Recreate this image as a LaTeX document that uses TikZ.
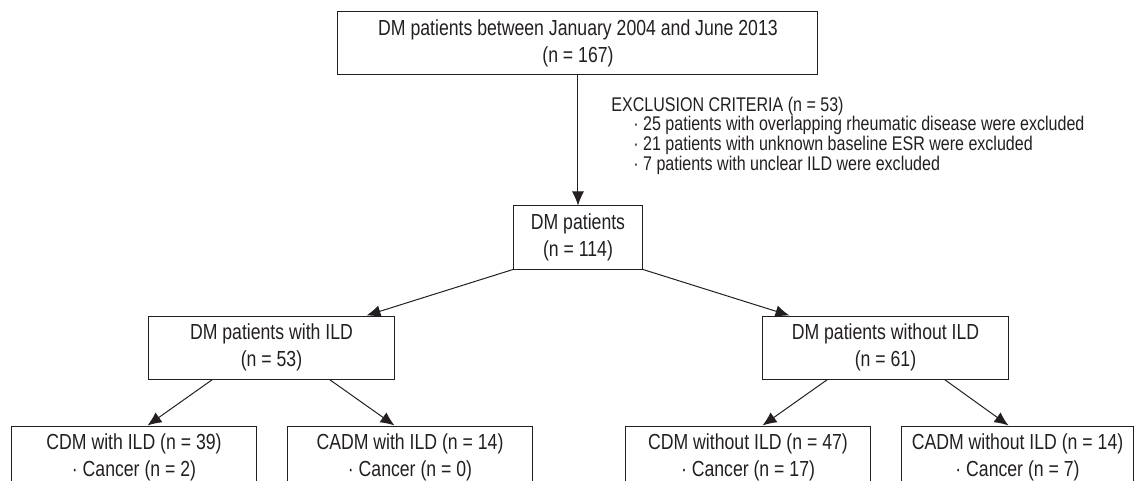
\documentclass[tikz,border=0pt]{standalone}
\usepackage{fontspec}
\setmainfont{Liberation Sans}[FakeStretch=0.81]
\usetikzlibrary{positioning,arrows.meta}
\definecolor{lineColor}{RGB}{35,31,32}

\begin{document}
\begin{tikzpicture}[lineColor]
  	\tikzstyle{box} = [rectangle,draw=lineColor,line width=0.5pt,inner sep=0pt,align=center,minimum height=31.5pt,font=\fontsize{10.9pt}{13.75pt}\selectfont]
  	\tikzstyle{note} = [inner sep=0pt,align=left,font=\fontsize{9.9pt}{9.8pt}\selectfont]
  	\tikzstyle{edge} = [->,line width=0.5pt]
  	\tikzset{>={Latex[length=7pt,width=6pt]}}

	  \useasboundingbox (-289pt,21.75pt) rectangle (279pt,-218.75pt);

	  \node [box, minimum width=240pt] (all) {DM patients between January 2004 and June 2013\\(n = 167)};
	  \node [box, minimum width=64.5pt, below=65pt of all] (dm) {DM patients\\(n = 114)};

	  \node [note, anchor=north west] (excl) at ([xshift=16.5pt,yshift=-10.5pt]all.south) {EXCLUSION CRITERIA (n = 53)\\
	    \hspace*{11pt}· 25 patients with overlapping rheumatic disease were excluded\\
	    \hspace*{11pt}· 21 patients with unknown baseline ESR were excluded\\
	    \hspace*{11pt}· 7 patients with unclear ILD were excluded};

	  \node [box, minimum width=123pt, below=23pt of dm, xshift=-153.25pt] (ild) {DM patients with ILD\\(n = 53)};
	  \node [box, minimum width=123pt, below=23pt of dm, xshift=153.75pt] (nild) {DM patients without ILD\\(n = 61)};

	  \node [box, minimum width=122.5pt, below=23pt of ild, xshift=-68.75pt] (cdmild) {CDM with ILD (n = 39)\\· Cancer (n = 2)};
	  \node [box, minimum width=122.5pt, below=23pt of ild, xshift=69.25pt] (cadmild) {CADM with ILD (n = 14)\\· Cancer (n = 0)};
	  \node [box, minimum width=122.5pt, below=23pt of nild, xshift=-68.75pt] (cdmnild) {CDM without ILD (n = 47)\\· Cancer (n = 17)};
	  \node [box, minimum width=116pt, below=23pt of nild, xshift=66pt] (cadmnild) {CADM without ILD (n = 14)\\· Cancer (n = 7)};

		\draw [edge] (all) -- (dm);
		\draw [edge] (dm.south west) -- ([xshift=47.5pt]ild.north);
		\draw [edge] (dm.south east) -- ([xshift=-48pt]nild.north);
		\draw [edge] ([xshift=-29.5pt]ild.south) -- ([xshift=6.75pt]cdmild.north);
		\draw [edge] ([xshift=29pt]ild.south) -- ([xshift=-7.75pt]cadmild.north);
		\draw [edge] ([xshift=-29pt]nild.south) -- ([xshift=7.25pt]cdmnild.north);
		\draw [edge] ([xshift=29.5pt]nild.south) -- ([xshift=-4.5pt]cadmnild.north);
  \end{tikzpicture}
\end{document}
